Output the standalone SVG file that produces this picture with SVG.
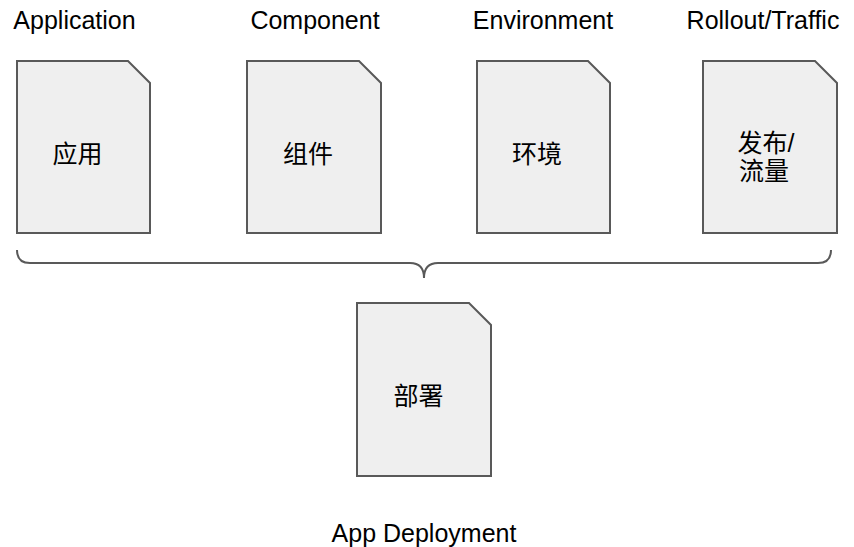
<svg xmlns="http://www.w3.org/2000/svg" width="854" height="547" viewBox="0 0 854 547">
  <style>
    .doc { fill: #efefef; stroke: #595959; stroke-width: 2; stroke-linejoin: miter; }
    .lbl { font-family: "Liberation Sans", Arial, sans-serif; font-size: 25px; fill: #000; text-anchor: middle; }
    .cjk { font-family: "Liberation Sans", "Noto Sans CJK SC", sans-serif; font-size: 25px; fill: #000; text-anchor: middle; }
    .brace { fill: none; stroke: #595959; stroke-width: 2; }
  </style>
  <rect width="854" height="547" fill="#ffffff"/>
  <g id="node-application">
    <path class="doc" d="M17,61 H128 L150,83 V233 H17 Z"/>
    <text class="lbl" x="74.5" y="29">Application</text>
    <text class="cjk" x="77.5" y="163">应用</text>
  </g>
  <g id="node-component">
    <path class="doc" d="M247,61 H359 L381,83 V233 H247 Z"/>
    <text class="lbl" x="315" y="29">Component</text>
    <text class="cjk" x="308" y="163">组件</text>
  </g>
  <g id="node-environment">
    <path class="doc" d="M477,61 H588 L610,83 V233 H477 Z"/>
    <text class="lbl" x="543" y="29">Environment</text>
    <text class="cjk" x="537" y="163">环境</text>
  </g>
  <g id="node-rollout">
    <path class="doc" d="M703,61 H815 L837,83 V233 H703 Z"/>
    <text class="lbl" x="763" y="29">Rollout/Traffic</text>
    <text class="cjk" x="766" y="152">发布/</text>
    <text class="cjk" x="764" y="180">流量</text>
  </g>
  <g id="node-deployment">
    <path class="doc" d="M357,303 H469 L491,325 V476 H357 Z"/>
    <text class="cjk" x="418.5" y="405">部署</text>
    <text class="lbl" x="424" y="542">App Deployment</text>
  </g>
  <g id="connectors">
    <path class="brace" d="M17,250 Q17,263 30,263 H410 Q424,263 424,278 Q424,263 438,263 H818 Q831,263 831,250"/>
  </g>
</svg>
